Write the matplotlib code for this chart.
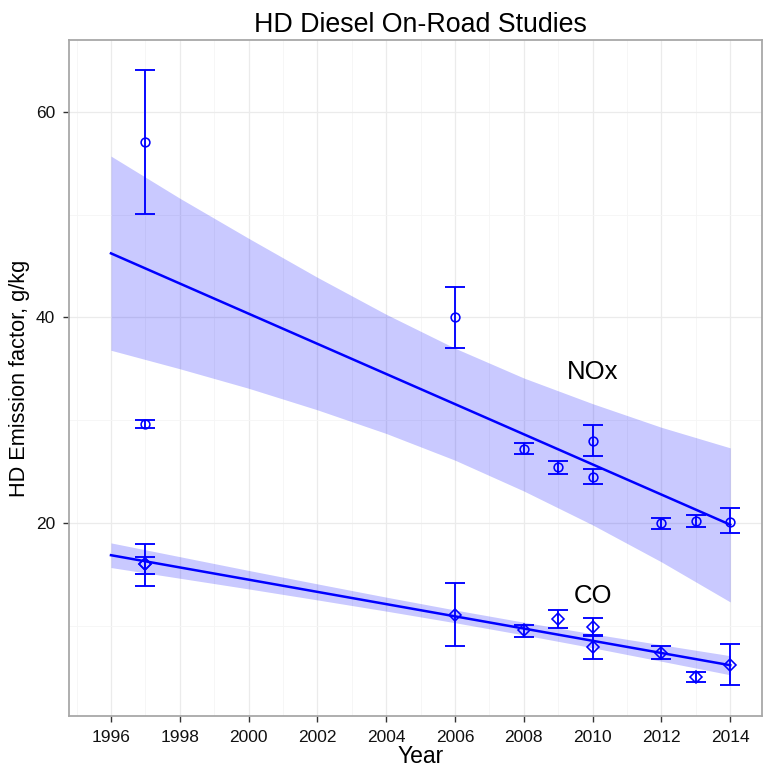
import numpy as np
import matplotlib
matplotlib.use("Agg")
import matplotlib.pyplot as plt
from matplotlib.ticker import MultipleLocator

plt.rcParams["font.family"] = ["Liberation Sans", "DejaVu Sans"]

# NOx on-road studies (value with lower/upper error)
nox_year = [1997, 1997, 2006, 2008, 2009, 2010, 2010, 2012, 2013, 2014]
nox_value = [57.1, 29.6, 40.0, 27.2, 25.4, 28.0, 24.5, 20.0, 20.2, 20.1]
nox_low = [50.1, 29.2, 37.0, 26.7, 24.8, 26.5, 23.8, 19.4, 19.6, 19.0]
nox_high = [64.1, 30.0, 43.0, 27.8, 26.0, 29.5, 25.2, 20.5, 20.8, 21.4]

# CO on-road studies
co_year = [1997, 1997, 2006, 2008, 2009, 2010, 2010, 2012, 2013, 2014]
co_value = [16.0, 16.0, 11.0, 9.6, 10.6, 9.9, 7.9, 7.3, 5.0, 6.2]
co_low = [13.9, 15.0, 8.0, 8.9, 9.8, 9.0, 6.7, 6.7, 4.5, 4.2]
co_high = [17.9, 16.7, 14.1, 10.1, 11.5, 10.7, 9.1, 8.0, 5.5, 8.2]

# confidence ribbons of the trend lines
band_year = [1996, 1998, 2000, 2002, 2004, 2006, 2008, 2010, 2012, 2014]
nox_band_low = [36.8, 35.0, 33.1, 31.0, 28.7, 26.1, 23.1, 19.8, 16.2, 12.3]
nox_band_high = [55.7, 51.6, 47.7, 43.9, 40.3, 37.0, 34.1, 31.6, 29.3, 27.3]
co_band_low = [15.65, 14.61, 13.57, 12.50, 11.41, 10.28, 9.09, 7.84, 6.53, 5.21]
co_band_high = [18.05, 16.71, 15.37, 14.06, 12.77, 11.52, 10.33, 9.20, 8.13, 7.07]

fit_range = (1996, 2014)
BLUE = "#0000ff"


def draw_series(ax, year, value, low, high, band_lo, band_hi, marker, msize):
    # ribbon
    ax.fill_between(band_year, band_lo, band_hi, color=BLUE, alpha=0.21,
                    linewidth=0, zorder=2)
    # straight least-squares trend over the full year range
    slope, icpt = np.polyfit(year, value, 1)
    xs = np.array(fit_range, float)
    ax.plot(xs, slope * xs + icpt, color=BLUE, linewidth=1.8, zorder=3)
    # error bars + open markers
    v = np.asarray(value)
    yerr = [v - np.asarray(low), np.asarray(high) - v]
    ax.errorbar(year, value, yerr=yerr, fmt="none", ecolor=BLUE,
                elinewidth=1.35, capsize=7.2, capthick=1.35, zorder=4)
    ax.plot(year, value, linestyle="none", marker=marker, markersize=msize,
            markerfacecolor="none", markeredgecolor=BLUE, markeredgewidth=1.15, zorder=5)


fig = plt.figure(figsize=(7.63, 7.67), dpi=100)
ax = fig.add_axes([69 / 763, 1 - 716 / 767, 1 - 69 / 763 - 0.001, (716 - 40) / 767])

draw_series(ax, nox_year, nox_value, nox_low, nox_high,
            nox_band_low, nox_band_high, "o", 6.3)
draw_series(ax, co_year, co_value, co_low, co_high,
            co_band_low, co_band_high, "D", 6.5)

ax.text(2010.0, 34.7, "NOx", fontsize=18.5, ha="center", va="center", zorder=6)
ax.text(2010.0, 12.9, "CO", fontsize=18.5, ha="center", va="center", zorder=6)

ax.set_xlim(1994.78, 2014.93)
ax.set_ylim(1.2, 67.0)
ax.xaxis.set_major_locator(MultipleLocator(2))
ax.xaxis.set_minor_locator(MultipleLocator(1))
ax.yaxis.set_major_locator(MultipleLocator(20))
ax.yaxis.set_minor_locator(MultipleLocator(10))

# ggplot-ish grid
ax.grid(which="major", color="#ebebeb", linewidth=0.9, zorder=0)
ax.grid(which="minor", color="#f5f5f5", linewidth=0.6, zorder=0)
ax.set_axisbelow(True)
for spine in ax.spines.values():
    spine.set_edgecolor("#a8a8a8")
    spine.set_linewidth(1.3)
ax.tick_params(which="major", direction="out", length=4, width=1.0,
               color="#333333", labelsize=12.5, labelcolor="#111111", pad=6)
ax.tick_params(which="minor", length=0)

# title / axis titles sit a little right of the panel centre in the original
ax.set_title("HD Diesel On-Road Studies", fontsize=19.3, pad=6, x=(421 - 69) / 694)
ax.set_xlabel("Year", fontsize=16.5, labelpad=0)
ax.xaxis.set_label_coords((421 - 69) / 694, -0.043)
ax.set_ylabel("HD Emission factor, g/kg", fontsize=15.7, labelpad=4)

fig.savefig("out.png", dpi=100)
